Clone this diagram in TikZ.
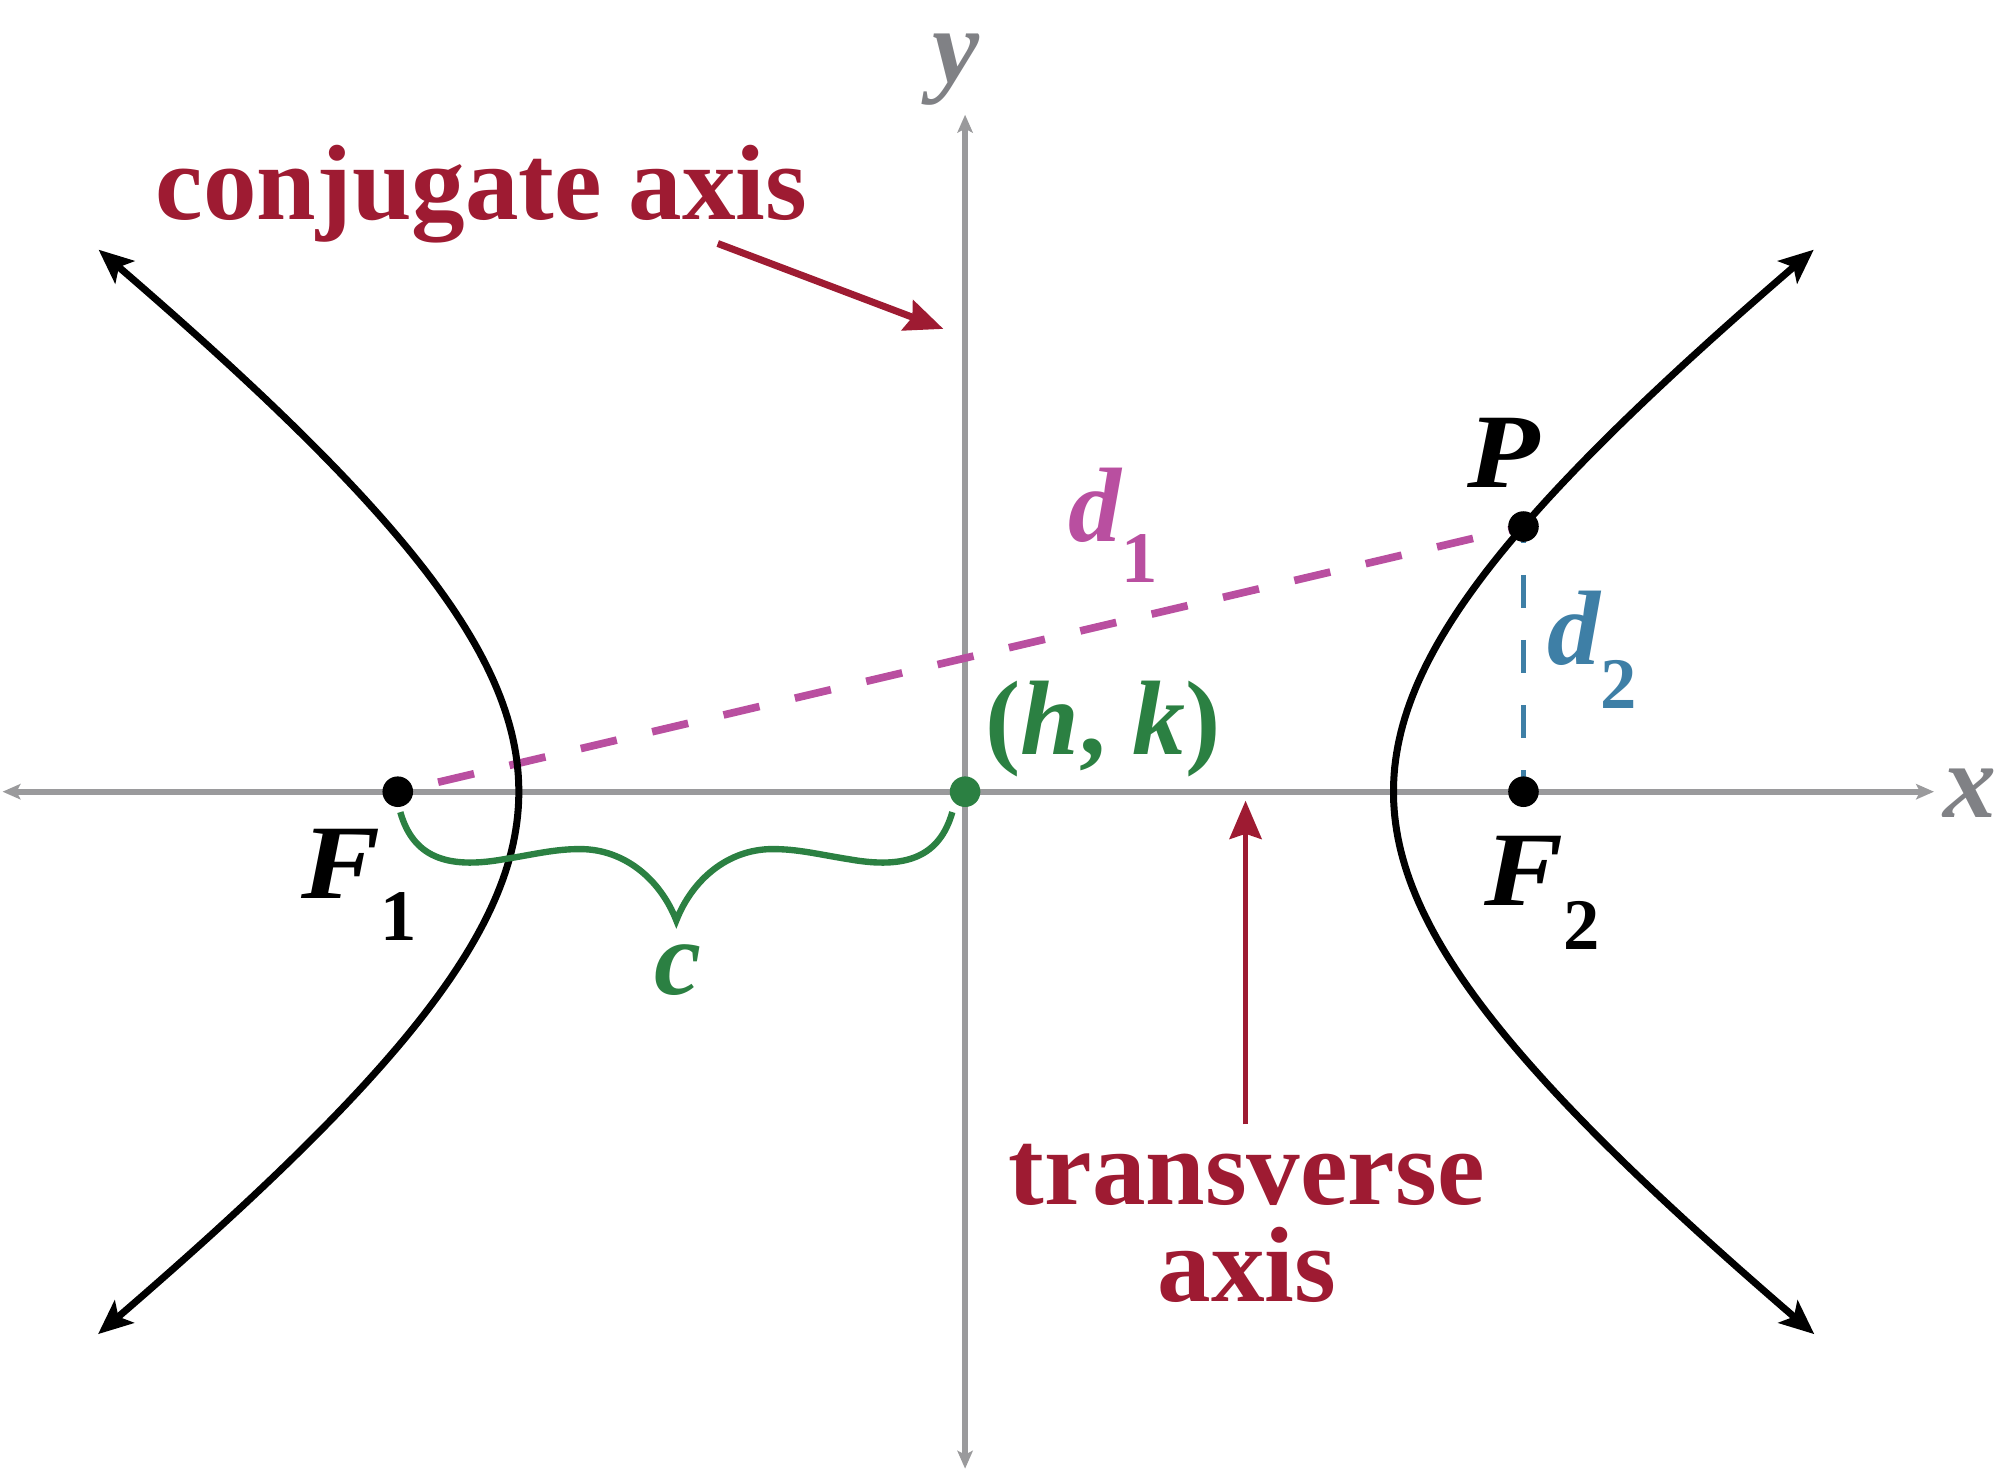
\documentclass[tikz,border=0pt]{standalone}
\usepackage{fontspec}
\setmainfont{Liberation Serif}
\usetikzlibrary{arrows.meta}
\definecolor{axred}{RGB}{158,27,50}
\definecolor{dmag}{RGB}{185,79,160}
\definecolor{dblue}{RGB}{62,127,166}
\definecolor{cgreen}{RGB}{43,128,66}
\definecolor{axgray}{RGB}{154,154,156}
\definecolor{lblgray}{RGB}{128,129,133}
\newcommand\lblfont{\fontsize{83}{83}\selectfont\bfseries\itshape}
\newcommand\wordfont{\fontsize{84}{84}\selectfont\bfseries}
\newcommand\subfnt[1]{{\fontsize{57}{57}\selectfont\bfseries\upshape #1}}
\newcommand\widen[1]{\scalebox{1.12}[1]{#1}}
\begin{document}
\begin{tikzpicture}[x=1pt,y=-1pt,
  axisline/.style={draw=axgray, line width=4.5pt, {Stealth[length=14pt,width=12pt,inset=3pt]}-{Stealth[length=14pt,width=12pt,inset=3pt]}},
  branch/.style={draw=black, line width=5.5pt, {Stealth[length=27pt,width=23pt,inset=6pt]}-{Stealth[length=27pt,width=23pt,inset=6pt]}},
  redarrow/.style={draw=axred, line width=5.5pt, -{Stealth[length=30pt,width=25pt,inset=4pt]}},
  dotnode/.style={circle, fill=black, inner sep=0pt, minimum size=24pt},
  lbl/.style={inner sep=0pt, font=\lblfont},
  word/.style={inner sep=0pt, font=\wordfont, text=axred}
]
\useasboundingbox (0,0) rectangle (1568,1153);
% axes
\coordinate (xl) at (2,621);
\coordinate (xr) at (1517,621);
\coordinate (yt) at (757,90);
\coordinate (yb) at (757,1152);
\draw[axisline] (xl) -- (xr);
\draw[axisline] (yb) -- (yt);
% points (coordinates)
\coordinate (F1c) at (312,621);
\coordinate (F2c) at (1195,621);
\coordinate (Pc) at (1195,413);
\coordinate (Cc) at (757,621);
% dashed distances
\draw[dmag, line width=6pt, dash pattern=on 29pt off 28.5pt, dash phase=25pt] (F1c) -- (Pc);
\draw[dblue, line width=4.5pt, dash pattern=on 26pt off 25pt, dash phase=13pt] (Pc) -- (F2c);
% hyperbola branches
\draw[branch] plot[domain=-1.295:1.295, samples=120, variable=\t] ({750+343*cosh(\t)},{621-252*sinh(\t)});
\draw[branch] plot[domain=-1.295:1.295, samples=120, variable=\t] ({750-343*cosh(\t)},{621-252*sinh(\t)});
% brace c
\draw[cgreen, line width=5pt] (314,637) .. controls (324,672) and (350,682) .. (395,674)
  .. controls (420,670) and (435,666) .. (455,666)
  .. controls (490,666) and (518,690) .. (530.5,722)
  .. controls (543,690) and (571,666) .. (606,666)
  .. controls (626,666) and (641,670) .. (666,674)
  .. controls (711,682) and (737,672) .. (747,637);
% dots
\node[dotnode] (F1) at (F1c) {};
\node[dotnode] (F2) at (F2c) {};
\node[dotnode] (P) at (Pc) {};
\node[dotnode, fill=cgreen] (C) at (Cc) {};
% red arrows
\node[word, anchor=base west] (conj) at (122,172) {conjugate axis};
\coordinate (conjS) at (563,191);
\coordinate (conjE) at (740,258);
\draw[redarrow] (conjS) -- (conjE);
\node[word, anchor=base] (trans1) at (978,945) {transverse};
\node[word, anchor=base] (trans2) at (978,1021) {axis};
\coordinate (trS) at (977,882);
\coordinate (trE) at (977,628);
\draw[redarrow, line width=4.5pt] (trS) -- (trE);
% labels
\node[lbl, anchor=base, text=lblgray] (ylab) at (750,65) {y};
\node[lbl, anchor=base, text=lblgray] (xlab) at (1545,641) {x};
\node[lbl, anchor=base west] (Plab) at (1151,382) {\widen{P}};
\node[lbl, anchor=base west] (F1lab) at (236,705) {\widen{F}\raisebox{-33pt}{\subfnt{1}}};
\node[lbl, anchor=base west] (F2lab) at (1164,710) {\widen{F}\raisebox{-35pt}{\subfnt{2}}};
\node[lbl, anchor=base west, text=dmag] (d1lab) at (838,425) {d\raisebox{-32pt}{\subfnt{1}}};
\node[lbl, anchor=base west, text=dblue] (d2lab) at (1214,521) {d\raisebox{-35pt}{\subfnt{2}}};
\node[lbl, anchor=base, text=cgreen] (clab) at (532,780) {c};
\node[lbl, anchor=base west, text=cgreen] (hklab) at (773,592) {{\upshape(}h{\upshape,} k{\upshape)}};
\end{tikzpicture}
\end{document}
